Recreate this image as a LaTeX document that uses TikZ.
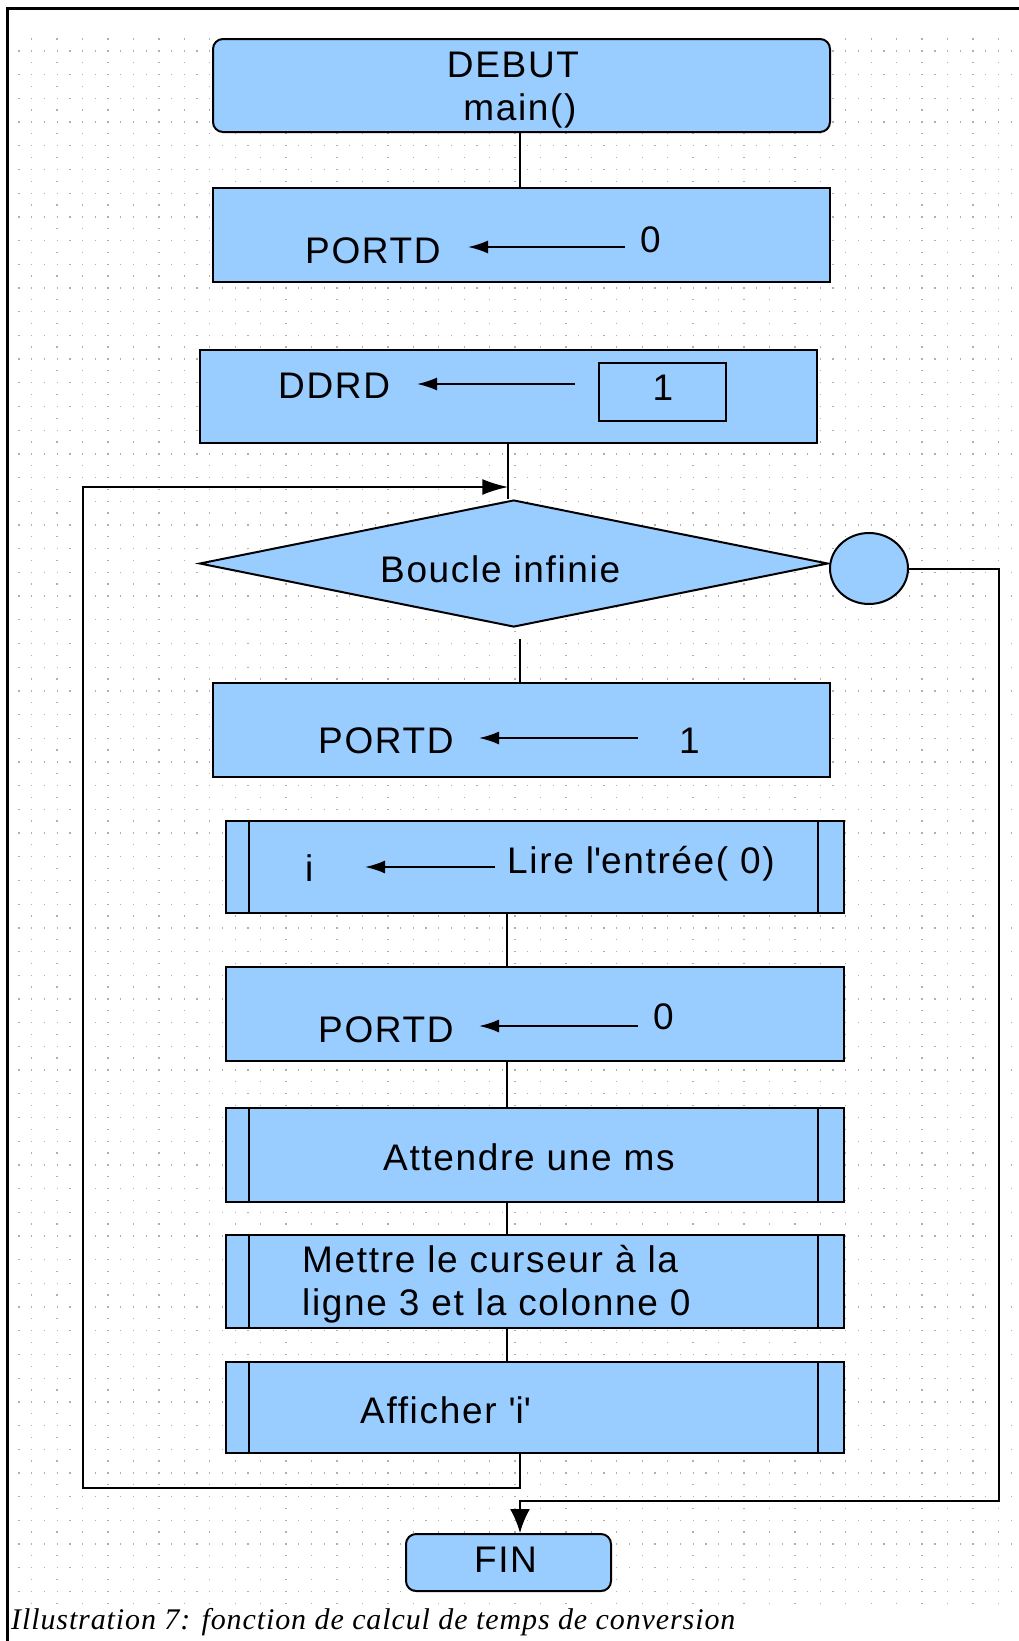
\documentclass[tikz,border=0pt]{standalone}
\usepackage{fontspec}
\setmainfont{Liberation Serif}
\newfontfamily\flowfont[LetterSpace=4.5]{Liberation Sans}
\newfontfamily\capfont[LetterSpace=3]{Liberation Serif}
\usetikzlibrary{shapes.geometric,arrows.meta,calc}
\definecolor{boxblue}{RGB}{153,204,255}
\definecolor{dotgray}{RGB}{175,175,175}
\tikzset{
  shapebox/.style={draw=black, line width=2pt, fill=boxblue, rectangle, inner sep=0pt},
  termbox/.style={shapebox, rounded corners=10pt},
  decision/.style={draw=black, line width=2pt, fill=boxblue, diamond, shape aspect=5, inner sep=0pt},
  connector/.style={draw=black, line width=2pt, fill=boxblue, ellipse, inner sep=0pt},
  txt/.style={inner sep=0pt, font=\flowfont\fontsize{37}{43}\selectfont, text=black},
  conn/.style={draw=black, line width=2pt},
  assign/.style={draw=black, line width=2pt, -{Latex[length=20pt,width=13pt]}},
  looptip/.style={-{Latex[length=26pt,width=16pt]}},
  fintip/.style={-{Latex[length=24pt,width=20pt]}},
  dotrow/.style={draw=dotgray, line width=1.3pt, dash pattern=on 1.3pt off 11.42pt},
  sparserow/.style={draw=dotgray, line width=1.3pt, dash pattern=on 1.3pt off 24.14pt},
  sidebar/.style={draw=black, line width=2pt},
}
\begin{document}
\begin{tikzpicture}[x=1pt,y=-1pt]
\useasboundingbox (0,0) rectangle (1019,1641);
\fill[white] (0,0) rectangle (1019,1641);
% dotted grid
\foreach \k in {0,...,65} \draw[dotrow] (18.35,51+23.7*\k) -- (1019,51+23.7*\k);
\foreach \k in {0,...,66} \draw[sparserow] (31.05,39+23.7*\k) -- (1019,39+23.7*\k);
% frame
\draw[line width=3pt] (7.5,1641) -- (7.5,8.5) -- (1019,8.5);

% shapes
\node[termbox, minimum width=617pt, minimum height=93pt] (debut) at (521.5,85.5) {};
\node[shapebox, minimum width=617pt, minimum height=94pt] (portda) at (521.5,235) {};
\node[shapebox, minimum width=617.5pt, minimum height=93pt] (ddrd) at (508.25,396.5) {};
\node[shapebox, minimum width=127pt, minimum height=58pt] (one) at (662.5,392) {};
\node[decision, minimum width=628.5pt, minimum height=127pt] (bi) at (513.75,563.5) {};
\node[connector, minimum width=78pt, minimum height=71pt] (cir) at (869,568.5) {};
\node[shapebox, minimum width=617pt, minimum height=94pt] (portdb) at (521.5,730) {};
\node[shapebox, minimum width=618pt, minimum height=92pt] (lire) at (534.5,867) {};
\node[shapebox, minimum width=618pt, minimum height=94pt] (portdc) at (534.5,1014) {};
\node[shapebox, minimum width=618pt, minimum height=94pt] (attendre) at (534.5,1155) {};
\node[shapebox, minimum width=618pt, minimum height=93pt] (mettre) at (534.5,1281.5) {};
\node[shapebox, minimum width=618pt, minimum height=91pt] (afficher) at (534.5,1407.5) {};
\node[termbox, minimum width=205pt, minimum height=57pt] (fin) at (508.5,1562.5) {};

\foreach \n in {lire,attendre,mettre,afficher} {
  \draw[sidebar] ([xshift=24.5pt]\n.north west) -- ([xshift=24.5pt]\n.south west);
  \draw[sidebar] ([xshift=-26.5pt]\n.north east) -- ([xshift=-26.5pt]\n.south east);
}

% texts
\node[txt, anchor=base] (tdebut) at (513,77) {DEBUT};
\node[txt, anchor=base] (tmain) at (520,120) {main()};
\node[txt, anchor=base west] (tpa) at (305,263) {PORTD};
\node[txt, anchor=base west] (tza) at (640,252) {0};
\node[txt, anchor=base west] (tddrd) at (278,398) {DDRD};
\node[txt, anchor=base] (tone) at (663,400) {1};
\node[txt, anchor=base west] (tbi) at (380,582) {Boucle infinie};
\node[txt, anchor=base west] (tpb) at (318,753) {PORTD};
\node[txt, anchor=base west] (toneb) at (679,753) {1};
\node[txt, anchor=base west] (ti) at (305,881) {i};
\node[txt, anchor=base west] (tlire) at (507,873) {Lire l\textquotesingle entrée( 0)};
\node[txt, anchor=base west] (tpc) at (318,1042) {PORTD};
\node[txt, anchor=base west] (tzc) at (653,1029) {0};
\node[txt, anchor=base west] (tatt) at (383,1170) {Attendre une ms};
\node[txt, anchor=base west, align=left] (tmet) at (302,1315) {Mettre le curseur à la\\ligne 3 et la colonne 0};
\node[txt, anchor=base west] (taff) at (360,1423) {Afficher \textquotesingle i\textquotesingle};
\node[txt, anchor=base] (tfin) at (505.5,1572) {FIN};
\node[inner sep=0pt, anchor=base west, font=\capfont\itshape\fontsize{30}{34}\selectfont] (caption) at (11,1629.5) {Illustration 7: fonction de calcul de temps de conversion};

% assignment arrows
\coordinate (aas) at (625,247);  \coordinate (aae) at (468,247);
\coordinate (abs) at (575,384);  \coordinate (abe) at (417,384);
\coordinate (acs) at (638,738);  \coordinate (ace) at (479,738);
\coordinate (ads) at (495,867);  \coordinate (ade) at (365,867);
\coordinate (aes) at (638,1026); \coordinate (aee) at (479,1026);
\draw[assign] (aas) -- (aae);
\draw[assign] (abs) -- (abe);
\draw[assign] (acs) -- (ace);
\draw[assign] (ads) -- (ade);
\draw[assign] (aes) -- (aee);

% connectors
\draw[conn] ($(debut.south)+(-1.5,0)$) -- ($(portda.north)+(-1.5,0)$);
\draw[conn] ($(portda.south)+(-26.5,0)$) -- ($(portda.south)+(-26.5,0)$ |- ddrd.north);
\draw[conn] (ddrd.south) -- (ddrd.south |- bi.north);
\draw[conn] ($(portdb.north |- bi.south)+(-1.5,11)$) -- ($(portdb.north)+(-1.5,0)$);
\draw[conn] ($(lire.south)+(-27.5,0)$) -- ($(portdc.north)+(-27.5,0)$);
\draw[conn] ($(portdc.south)+(-27.5,0)$) -- ($(attendre.north)+(-27.5,0)$);
\draw[conn] ($(attendre.south)+(-27.5,0)$) -- ($(mettre.north)+(-27.5,0)$);
\draw[conn] ($(mettre.south)+(-27.5,0)$) -- ($(afficher.north)+(-27.5,0)$);
% loop back
\coordinate (lb) at (82.5,1488);
\coordinate (lt) at (82.5,487);
\draw[conn, looptip] ($(afficher.south)+(-14.5,0)$) |- (lb) -- (lt) -- (lt -| ddrd.south);
% exit
\coordinate (rb) at (999,1500.7);
\draw[conn, fintip] (cir.east) -| (rb) -| ($(fin.north)+(11.5,0)$);
\end{tikzpicture}
\end{document}
